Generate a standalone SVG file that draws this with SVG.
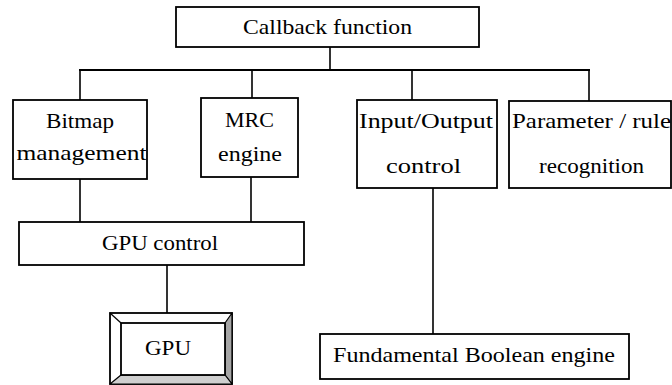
<svg xmlns="http://www.w3.org/2000/svg" width="672" height="385" viewBox="0 0 672 385">
<style>
.box{fill:#fff;stroke:#000;stroke-width:1.8}
.c{fill:none;stroke:#000;stroke-width:1.6}
.bus{fill:none;stroke:#000;stroke-width:2.2}
text{font-family:"Liberation Serif",serif}
</style>
<rect width="672" height="385" fill="#fff"/>
<g id="connectors">
<line class="c" x1="330" y1="47" x2="330" y2="70"/>
<line class="bus" x1="79" y1="70" x2="590" y2="70"/>
<line class="c" x1="80" y1="70" x2="80" y2="100"/>
<line class="c" x1="252" y1="70" x2="252" y2="98"/>
<line class="c" x1="412" y1="70" x2="412" y2="100"/>
<line class="c" x1="589" y1="69" x2="589" y2="101"/>
<line class="c" x1="80" y1="179" x2="80" y2="222"/>
<line class="c" x1="251" y1="177" x2="251" y2="222"/>
<line class="c" x1="167" y1="265" x2="167" y2="313"/>
<line class="c" x1="433" y1="188" x2="433" y2="334"/>
</g>
<g id="callback">
<rect class="box" x="176" y="7" width="303" height="40"/>
<text font-family="Liberation Serif" font-size="21" text-anchor="middle" x="327.5" y="34" textLength="169" lengthAdjust="spacingAndGlyphs">Callback function</text>
</g>
<g id="bitmap">
<rect class="box" x="13" y="100" width="134" height="79"/>
<text font-family="DejaVu Serif" font-size="21" text-anchor="middle" x="80" y="128" textLength="68" lengthAdjust="spacingAndGlyphs">Bitmap</text>
<text font-family="Liberation Serif" font-size="21" text-anchor="middle" x="81.5" y="160" textLength="130" lengthAdjust="spacingAndGlyphs">management</text>
</g>
<g id="mrc">
<rect class="box" x="201" y="98" width="97" height="79"/>
<text font-family="Liberation Serif" font-size="21" text-anchor="middle" x="249.5" y="127" textLength="49" lengthAdjust="spacingAndGlyphs">MRC</text>
<text font-family="Liberation Serif" font-size="21" text-anchor="middle" x="250" y="161" textLength="64" lengthAdjust="spacingAndGlyphs">engine</text>
</g>
<g id="io">
<rect class="box" x="357" y="100" width="140" height="88"/>
<text font-family="Liberation Serif" font-size="21" text-anchor="middle" x="426" y="128" textLength="134" lengthAdjust="spacingAndGlyphs">Input/Output</text>
<text font-family="Liberation Serif" font-size="21" text-anchor="middle" x="423.5" y="173" textLength="75" lengthAdjust="spacingAndGlyphs">control</text>
</g>
<g id="param">
<rect class="box" x="509" y="101" width="162" height="87"/>
<text font-family="Liberation Serif" font-size="21" text-anchor="middle" x="591.5" y="128" textLength="159" lengthAdjust="spacingAndGlyphs">Parameter / rule</text>
<text font-family="Liberation Serif" font-size="21" text-anchor="middle" x="591.5" y="173" textLength="105" lengthAdjust="spacingAndGlyphs">recognition</text>
</g>
<g id="gpucontrol">
<rect class="box" x="19" y="222" width="285" height="43"/>
<text font-family="Liberation Serif" font-size="21" text-anchor="middle" x="160" y="250" textLength="116" lengthAdjust="spacingAndGlyphs">GPU control</text>
</g>
<g id="gpu">
<rect x="110" y="313" width="122" height="71" fill="#fff" stroke="#000" stroke-width="1.8"/>
<polygon points="225,323 232,313 232,384 225,375" fill="#a6a6a6" stroke="#000" stroke-width="1.2" stroke-linejoin="round"/>
<polygon points="121,375 225,375 232,384 110,384" fill="#cfcfcf" stroke="#000" stroke-width="1.2" stroke-linejoin="round"/>
<line x1="110" y1="313" x2="121" y2="323" stroke="#000" stroke-width="1.2"/>
<rect x="121" y="323" width="104" height="52" fill="#fff" stroke="#000" stroke-width="1.8"/>
<text font-family="Liberation Serif" font-size="21" text-anchor="middle" x="168" y="355" textLength="46" lengthAdjust="spacingAndGlyphs">GPU</text>
</g>
<g id="boolean">
<rect class="box" x="320" y="334" width="309" height="45"/>
<text font-family="Liberation Serif" font-size="21" text-anchor="middle" x="474" y="362" textLength="282" lengthAdjust="spacingAndGlyphs">Fundamental Boolean engine</text>
</g>
</svg>
